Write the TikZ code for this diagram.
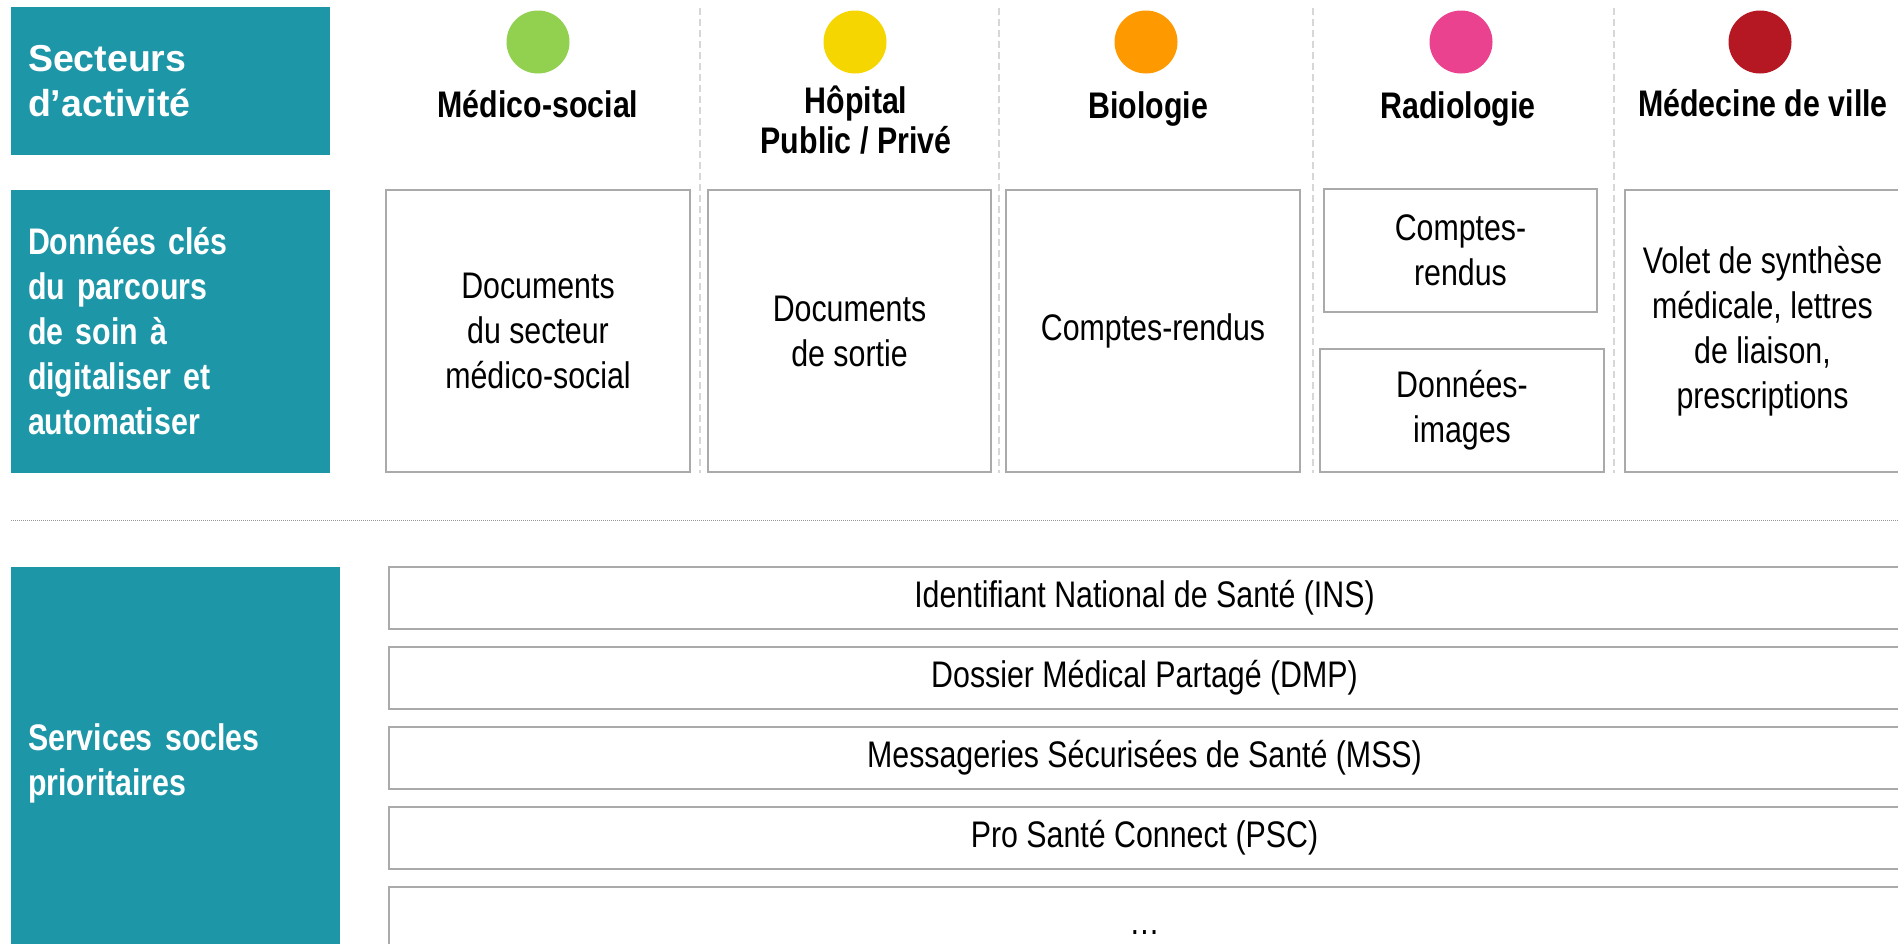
\documentclass[tikz,border=0pt]{standalone}
\usepackage{fontspec}
\setmainfont{Liberation Sans}[FakeStretch=0.82]
\newfontfamily\widefont{Liberation Sans}
\definecolor{tealbox}{RGB}{29,150,168}
\definecolor{cgreen}{RGB}{146,208,80}
\definecolor{cyellow}{RGB}{246,214,0}
\definecolor{corange}{RGB}{255,153,0}
\definecolor{cpink}{RGB}{234,66,143}
\definecolor{cred}{RGB}{181,23,35}
\definecolor{boxgray}{RGB}{170,170,170}
\definecolor{sepgray}{RGB}{215,215,215}
\definecolor{dotgray}{RGB}{150,150,150}
\begin{document}
\begin{tikzpicture}[x=1pt,y=-1pt,
  leftbox/.style={fill=tealbox, text=white, font=\bfseries\fontsize{37}{45}\selectfont,
    align=left, inner xsep=17pt, inner ysep=0pt, draw=none},
  dot/.style={circle, minimum size=63pt, inner sep=0pt, draw=none},
  hdr/.style={font=\bfseries\fontsize{37}{40}\selectfont, inner sep=0pt, align=center},
  dbox/.style={draw=boxgray, line width=2pt, fill=white, align=center,
    font=\fontsize{37}{45}\selectfont, inner sep=0pt},
  bar/.style={dbox, minimum width=1511pt, minimum height=62pt},
  sepline/.style={draw=sepgray, line width=1.2pt, dash pattern=on 7pt off 4pt},
  dotline/.style={draw=dotgray, line width=1pt, dash pattern=on 1pt off 1pt}]
\useasboundingbox (0,0) rectangle (1898,943);
\clip (0,0) rectangle (1898,943);
\fill[white] (0,0) rectangle (1898,943);

% column separators
\draw[sepline] (700,8) -- (700,473);
\draw[sepline] (999,8) -- (999,473);
\draw[sepline] (1313,8) -- (1313,473);
\draw[sepline] (1614,8) -- (1614,473);

% horizontal dotted separator
\draw[dotline] (11,520) -- (1898,520);

% left category boxes
\node[leftbox, text width=285pt, minimum height=148pt,
  font=\widefont\bfseries\fontsize{37.5}{45}\selectfont] (l1) at (170.5,81)
  {Secteurs\\d’activité};
\node[leftbox, text width=285pt, minimum height=283pt] (l2) at (170.5,331.5)
  {Données clés\\du parcours\\de soin à\\digitaliser et\\automatiser};
\node[leftbox, text width=295pt, minimum height=393pt] (l3) at (175.5,763.5)
  {Services socles\\prioritaires};

% sector dots
\node[dot, fill=cgreen]  (c1) at (538,42) {};
\node[dot, fill=cyellow] (c2) at (855,42) {};
\node[dot, fill=corange] (c3) at (1146,42) {};
\node[dot, fill=cpink]   (c4) at (1461,42) {};
\node[dot, fill=cred]    (c5) at (1760,42) {};

% sector headers
\node[hdr, anchor=base] (h1) at (538,117) {Médico-social};
\node[hdr] (h2) at (856,120) {Hôpital\\Public / Privé};
\node[hdr, anchor=base] (h3) at (1148,118) {Biologie};
\node[hdr, anchor=base] (h4) at (1458,118) {Radiologie};
\node[hdr, anchor=base] (h5) at (1763,116) {Médecine de ville};

% key data boxes
\node[dbox, minimum width=304pt, minimum height=282pt] (d1) at (538,331)
  {Documents\\du secteur\\médico-social};
\node[dbox, minimum width=283pt, minimum height=282pt] (d2) at (849.5,331)
  {Documents\\de sortie};
\node[dbox, minimum width=294pt, minimum height=282pt] (d3) at (1153,331)
  {Comptes-rendus};
\node[dbox, minimum width=273pt, minimum height=123pt] (d4a) at (1460.5,250.5)
  {Comptes-\\rendus};
\node[dbox, minimum width=284pt, minimum height=123pt] (d4b) at (1462,410.5)
  {Données-\\images};
\node[dbox, minimum width=275pt, minimum height=282pt] (d5) at (1762.5,331)
  {Volet de synthèse\\médicale, lettres\\de liaison,\\prescriptions};

% priority services
\node[bar] (s1) at (1144.5,598) {Identifiant National de Santé (INS)};
\node[bar] (s2) at (1144.5,678) {Dossier Médical Partagé (DMP)};
\node[bar] (s3) at (1144.5,758) {Messageries Sécurisées de Santé (MSS)};
\node[bar] (s4) at (1144.5,837.5) {Pro Santé Connect (PSC)};
\node[bar] (s5) at (1144.5,918) {\vphantom{(}\raisebox{-7pt}{…}};
\end{tikzpicture}
\end{document}
